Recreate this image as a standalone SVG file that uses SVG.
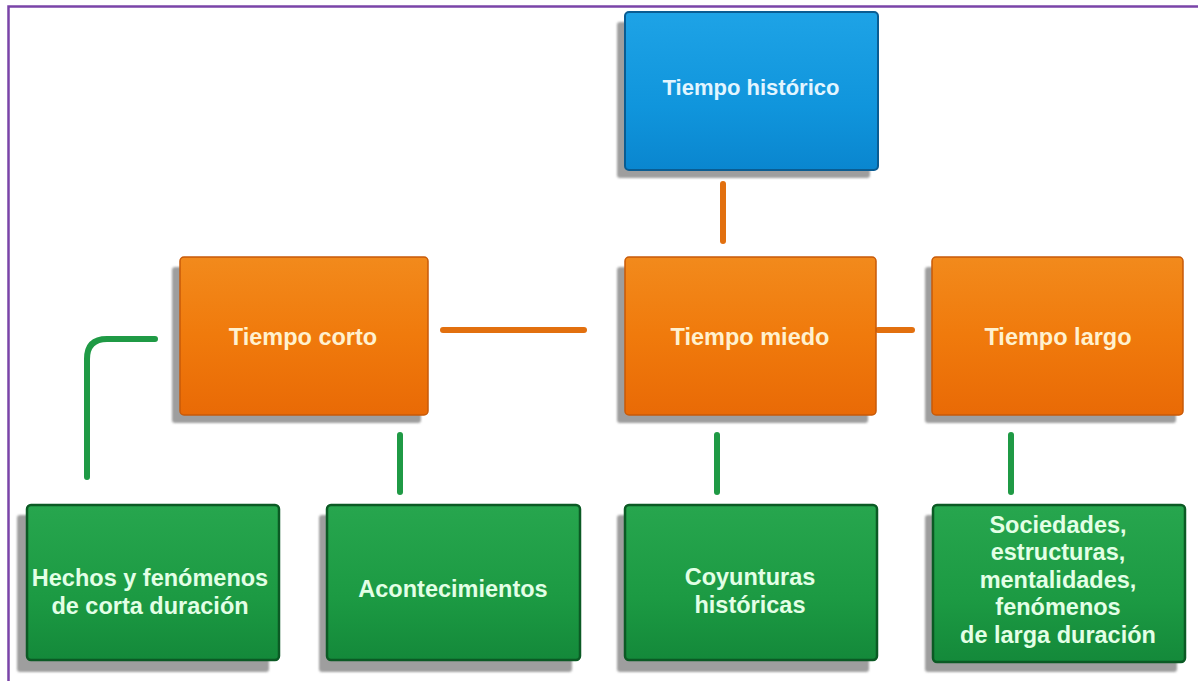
<svg xmlns="http://www.w3.org/2000/svg" width="1198" height="681" viewBox="0 0 1198 681">
  <defs>
    <linearGradient id="gOrange" x1="0" y1="0" x2="0" y2="1">
      <stop offset="0" stop-color="#f28a1c"/>
      <stop offset="0.5" stop-color="#f07a0c"/>
      <stop offset="1" stop-color="#e96a06"/>
    </linearGradient>
    <linearGradient id="gBlue" x1="0" y1="0" x2="0" y2="1">
      <stop offset="0" stop-color="#1ea3e6"/>
      <stop offset="0.6" stop-color="#1095dc"/>
      <stop offset="1" stop-color="#0a86cf"/>
    </linearGradient>
    <linearGradient id="gGreen" x1="0" y1="0" x2="0" y2="1">
      <stop offset="0" stop-color="#27a64e"/>
      <stop offset="0.6" stop-color="#1c9a43"/>
      <stop offset="1" stop-color="#14893a"/>
    </linearGradient>
    <filter id="soft" x="-10%" y="-10%" width="120%" height="120%">
      <feGaussianBlur stdDeviation="1"/>
    </filter>
  </defs>
  <style>
    .frame { stroke: #7a44a8; stroke-width: 2.5; fill: none; }
    .shadow { fill: #8e8e8e; opacity: 0.85; filter: url(#soft); }
    .orange { fill: url(#gOrange); stroke: #c85a08; stroke-width: 1.5; }
    .blue { fill: url(#gBlue); stroke: #0a5c92; stroke-width: 2; }
    .green { fill: url(#gGreen); stroke: #0b5a24; stroke-width: 2.5; }
    .lbl { font-family: "Liberation Sans", Arial, sans-serif; font-weight: bold; font-size: 22px; text-anchor: middle; }
    .lo { fill: #fff1cf; font-size: 23.5px; }
    .lb { fill: #e2f5ff; }
    .lg { fill: #e3ffe6; font-size: 23.5px; }
    .co { stroke: #e2700f; stroke-width: 6; stroke-linecap: round; fill: none; }
    .cg { stroke: #1f9a45; stroke-width: 6; stroke-linecap: round; fill: none; }
  </style>
  <rect width="1198" height="681" fill="#ffffff"/>
  <path class="frame" d="M8.5 681 V6.5 H1198"/>

  <g id="connectors">
    <line class="co" x1="723" y1="184" x2="723" y2="241"/>
    <line class="co" x1="443" y1="330" x2="584" y2="330"/>
    <line class="co" x1="878" y1="330" x2="912" y2="330"/>
    <path class="cg" d="M155 339 H107 Q87 339 87 359 V477"/>
    <line class="cg" x1="400" y1="435" x2="400" y2="492"/>
    <line class="cg" x1="717" y1="435" x2="717" y2="492"/>
    <line class="cg" x1="1011" y1="435" x2="1011" y2="492"/>
  </g>

  <g id="tiempo-historico">
    <rect class="shadow" x="617" y="22" width="253" height="156" rx="3"/>
    <rect class="blue" x="625" y="12" width="253" height="158" rx="4"/>
    <text class="lbl lb" x="751" y="95">Tiempo histórico</text>
  </g>

  <g id="tiempo-corto">
    <rect class="shadow" x="172" y="267" width="249" height="156" rx="3"/>
    <rect class="orange" x="180" y="257" width="248" height="158" rx="4"/>
    <text class="lbl lo" x="303" y="345">Tiempo corto</text>
  </g>

  <g id="tiempo-miedo">
    <rect class="shadow" x="617" y="267" width="251" height="156" rx="3"/>
    <rect class="orange" x="625" y="257" width="251" height="158" rx="4"/>
    <text class="lbl lo" x="750" y="345">Tiempo miedo</text>
  </g>

  <g id="tiempo-largo">
    <rect class="shadow" x="925" y="267" width="251" height="156" rx="3"/>
    <rect class="orange" x="932" y="257" width="251" height="158" rx="4"/>
    <text class="lbl lo" x="1058" y="345">Tiempo largo</text>
  </g>

  <g id="hechos">
    <rect class="shadow" x="17" y="515" width="252" height="157" rx="3"/>
    <rect class="green" x="27" y="505" width="252" height="155" rx="4"/>
    <text class="lbl lg" x="150" y="586">Hechos y fenómenos</text>
    <text class="lbl lg" x="150" y="614">de corta duración</text>
  </g>

  <g id="acontecimientos">
    <rect class="shadow" x="319" y="515" width="253" height="157" rx="3"/>
    <rect class="green" x="327" y="505" width="253" height="155" rx="4"/>
    <text class="lbl lg" x="453" y="597">Acontecimientos</text>
  </g>

  <g id="coyunturas">
    <rect class="shadow" x="617" y="515" width="252" height="157" rx="3"/>
    <rect class="green" x="625" y="505" width="252" height="155" rx="4"/>
    <text class="lbl lg" x="750" y="585">Coyunturas</text>
    <text class="lbl lg" x="750" y="613">históricas</text>
  </g>

  <g id="sociedades">
    <rect class="shadow" x="925" y="515" width="252" height="157" rx="3"/>
    <rect class="green" x="933" y="505" width="252" height="157" rx="4"/>
    <text class="lbl lg" x="1058" y="533">Sociedades,</text>
    <text class="lbl lg" x="1058" y="560">estructuras,</text>
    <text class="lbl lg" x="1058" y="588">mentalidades,</text>
    <text class="lbl lg" x="1058" y="615">fenómenos</text>
    <text class="lbl lg" x="1058" y="643">de larga duración</text>
  </g>
</svg>
